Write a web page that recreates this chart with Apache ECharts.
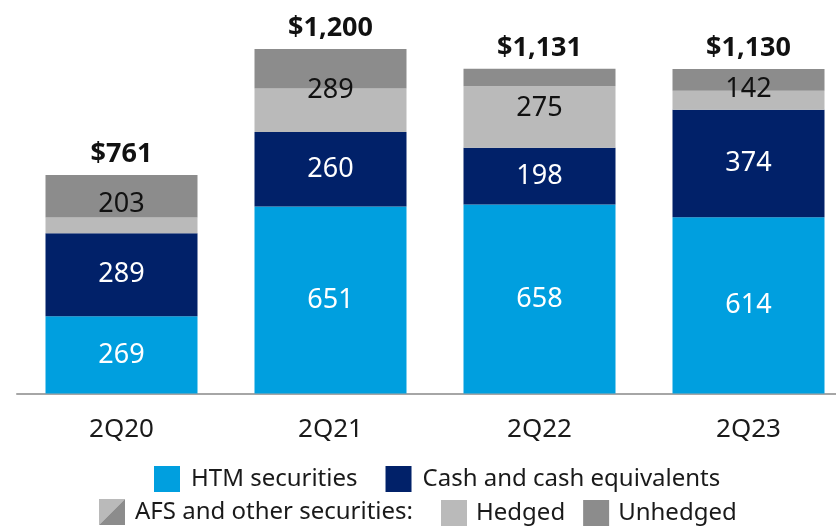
<!DOCTYPE html>
<html>
<head>
<meta charset="utf-8">
<script src="https://cdn.jsdelivr.net/npm/echarts@6/dist/echarts.min.js"></script>
<style>
  html, body { margin: 0; padding: 0; background: #fff; overflow: hidden; }
  #main { width: 854px; height: 527px; }
</style>
</head>
<body>
<div id="main"></div>
<script>
var categories = ['2Q20', '2Q21', '2Q22', '2Q23'];
var htm = [269, 651, 658, 614];
var cash = [289, 260, 198, 374];
var hedged = [55, 151, 214, 67];
var unhedged = [148, 138, 61, 75];
var afsTotal = [203, 289, 275, 142];
var totals = [761, 1200, 1131, 1130];

var FONT = '"Noto Sans", sans-serif';

var myChart = echarts.init(document.getElementById('main'));

// position of the AFS label: middle of the hedged + unhedged block
var afsMid = [];
for (var i = 0; i < categories.length; i++) {
    afsMid.push(htm[i] + cash[i] + afsTotal[i] / 2);
}

var option = {
    animation: false,
    textStyle: { fontFamily: FONT },
    grid: { left: 17, top: 49, width: 836, height: 344.5 },
    xAxis: {
        type: 'category',
        data: categories,
        axisLine: { lineStyle: { color: '#a6a6a6', width: 2 } },
        axisTick: { show: false },
        axisLabel: { fontSize: 26, color: '#1a1a1a', margin: 23, fontFamily: FONT }
    },
    yAxis: {
        type: 'value',
        min: 0,
        max: 1200,
        show: false,
        splitLine: { show: false }
    },
    legend: [{
        data: ['HTM securities', 'Cash and cash equivalents'],
        left: 149,
        top: 461,
        itemWidth: 26,
        itemHeight: 26,
        itemGap: 28,
        icon: 'rect',
        textStyle: { fontSize: 24, color: '#1a1a1a', fontFamily: FONT, padding: [0, 0, 0, 6] }
    }, {
        data: ['Hedged', 'Unhedged'],
        left: 436,
        top: 495,
        itemWidth: 26,
        itemHeight: 26,
        itemGap: 18,
        icon: 'rect',
        textStyle: { fontSize: 24, color: '#1a1a1a', fontFamily: FONT, padding: [0, 0, 0, 4] }
    }],
    graphic: [{
        type: 'polygon',
        shape: { points: [[99, 499], [125, 499], [99, 525]] },
        style: { fill: '#bababa' }
    }, {
        type: 'polygon',
        shape: { points: [[125, 499], [125, 525], [99, 525]] },
        style: { fill: '#8c8c8c' }
    }, {
        type: 'text',
        left: 135,
        top: 500,
        style: { text: 'AFS and other securities:', fontSize: 24, fill: '#1a1a1a', fontFamily: FONT }
    }],
    series: [{
        name: 'HTM securities',
        type: 'bar',
        stack: 'total',
        barWidth: 152,
        data: htm,
        itemStyle: { color: '#009fdf' },
        label: { show: true, position: 'inside', color: '#fff', fontSize: 27, fontFamily: FONT }
    }, {
        name: 'Cash and cash equivalents',
        type: 'bar',
        stack: 'total',
        data: cash,
        itemStyle: { color: '#012169' },
        label: { show: true, position: 'inside', color: '#fff', fontSize: 27, fontFamily: FONT }
    }, {
        name: 'Hedged',
        type: 'bar',
        stack: 'total',
        data: hedged,
        itemStyle: { color: '#bababa' }
    }, {
        name: 'Unhedged',
        type: 'bar',
        stack: 'total',
        data: unhedged,
        itemStyle: { color: '#8c8c8c' },
        label: {
            show: true,
            position: 'top',
            distance: 7,
            fontSize: 27,
            fontWeight: 'bold',
            color: '#111',
            fontFamily: FONT,
            formatter: function (p) {
                return '$' + totals[p.dataIndex].toLocaleString('en-US');
            }
        }
    }, {
        name: 'AFS',
        type: 'scatter',
        data: afsMid,
        symbolSize: 1,
        silent: true,
        z: 5,
        itemStyle: { color: 'transparent', opacity: 1 },
        label: {
            show: true,
            position: 'inside',
            fontSize: 27,
            color: '#111',
            opacity: 1,
            fontFamily: FONT,
            formatter: function (p) {
                return afsTotal[p.dataIndex];
            }
        }
    }]
};

myChart.setOption(option);
window.addEventListener('resize', function () {
    myChart.resize();
});
</script>
</body>
</html>
